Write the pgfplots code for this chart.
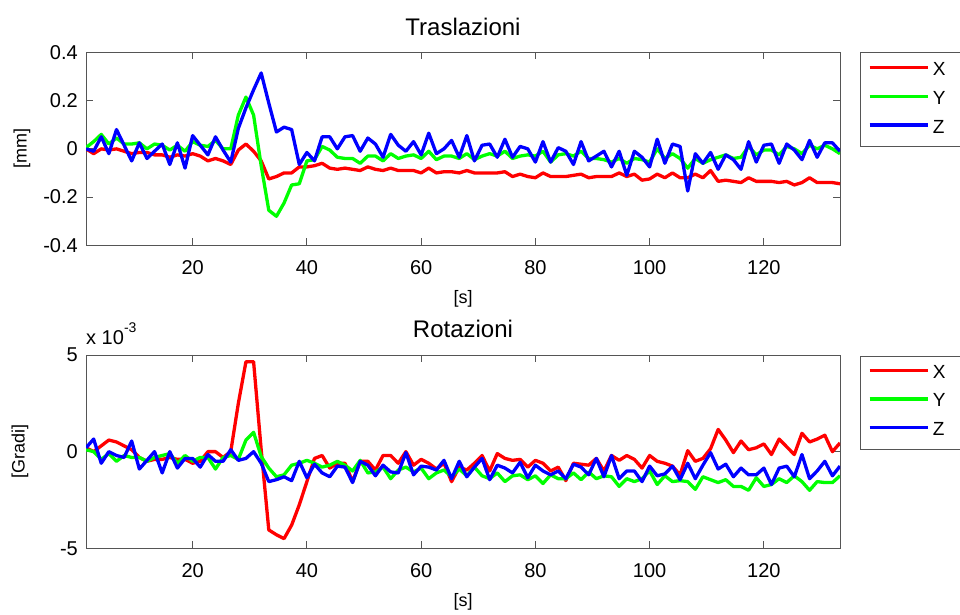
\documentclass[border=0pt]{standalone}
\usepackage{fontspec}
\setmainfont{Liberation Sans}
\usepackage{pgfplots}
\usepackage{pgfplotstable}
\pgfplotsset{compat=1.18}

\pgfplotstableread{
x X Y Z
1.33 0 0.005 0
2.67 -0.02 0.03 -0.01
4 0 0.06 0.05
5.33 -0.005 0.02 -0.02
6.67 0 0.045 0.08
8 -0.01 0.02 0.015
9.33 -0.02 0.02 -0.05
10.67 -0.015 0.025 0.025
12 -0.015 0 -0.04
13.33 -0.025 0.02 -0.01
14.67 -0.025 0.015 0.02
16 -0.035 -0.005 -0.065
17.33 -0.025 0.015 0.025
18.67 -0.03 -0.01 -0.08
20 -0.02 0.03 0.055
21.33 -0.03 0.015 0.015
22.67 -0.05 0.01 -0.025
24 -0.04 0.035 0.05
25.33 -0.05 0 -0.005
26.67 -0.065 0 -0.055
28 -0.005 0.14 0.085
29.33 0.02 0.215 0.17
30.67 -0.01 0.14 0.245
32 -0.05 -0.07 0.315
33.33 -0.125 -0.255 0.19
34.67 -0.115 -0.28 0.07
36 -0.1 -0.225 0.09
37.33 -0.1 -0.15 0.08
38.67 -0.075 -0.145 -0.065
40 -0.075 -0.05 -0.015
41.33 -0.07 -0.045 -0.05
42.67 -0.06 0.01 0.05
44 -0.08 -0.005 0.05
45.33 -0.085 -0.035 0
46.67 -0.08 -0.04 0.05
48 -0.085 -0.04 0.055
49.33 -0.09 -0.06 -0.01
50.67 -0.075 -0.03 0.045
52 -0.085 -0.03 0.02
53.33 -0.09 -0.05 -0.035
54.67 -0.08 -0.02 0.06
56 -0.09 -0.04 0.015
57.33 -0.09 -0.03 -0.01
58.67 -0.09 -0.025 0.03
60 -0.1 -0.04 -0.025
61.33 -0.08 -0.01 0.065
62.67 -0.1 -0.045 -0.02
64 -0.095 -0.03 0
65.33 -0.095 -0.03 0.035
66.67 -0.1 -0.04 -0.035
68 -0.09 -0.02 0.055
69.33 -0.1 -0.045 -0.05
70.67 -0.1 -0.03 0.015
72 -0.1 -0.02 0.02
73.33 -0.1 -0.03 -0.035
74.67 -0.095 -0.01 0.04
76 -0.115 -0.04 -0.035
77.33 -0.105 -0.03 0.01
78.67 -0.115 -0.025 0
80 -0.12 -0.03 -0.055
81.33 -0.1 -0.01 0.03
82.67 -0.115 -0.055 -0.055
84 -0.115 -0.025 0.005
85.33 -0.115 -0.02 -0.01
86.67 -0.11 -0.03 -0.065
88 -0.105 -0.01 0.03
89.33 -0.12 -0.04 -0.05
90.67 -0.115 -0.04 -0.03
92 -0.115 -0.045 -0.01
93.33 -0.115 -0.055 -0.075
94.67 -0.1 -0.04 -0.01
96 -0.115 -0.06 -0.11
97.33 -0.105 -0.04 -0.01
98.67 -0.13 -0.045 -0.035
100 -0.125 -0.055 -0.075
101.33 -0.105 0 0.04
102.67 -0.12 -0.04 -0.06
104 -0.1 -0.02 0.02
105.33 -0.12 -0.04 0.01
106.67 -0.12 -0.08 -0.175
108 -0.105 -0.04 -0.02
109.33 -0.12 -0.06 -0.06
110.67 -0.09 -0.045 -0.015
112 -0.135 -0.035 -0.085
113.33 -0.13 -0.025 -0.025
114.67 -0.135 -0.04 -0.045
116 -0.14 -0.035 -0.085
117.33 -0.12 0.01 0.03
118.67 -0.135 -0.025 -0.055
120 -0.135 -0.005 0.015
121.33 -0.135 -0.005 0.02
122.67 -0.14 -0.025 -0.06
124 -0.135 0.01 0.02
125.33 -0.15 0 -0.005
126.67 -0.14 -0.02 -0.045
128 -0.12 0.015 0.035
129.33 -0.14 0 -0.035
130.67 -0.14 0.015 0.025
132 -0.14 0 0.025
133.33 -0.145 -0.02 -0.01
}\trasl

\pgfplotstableread{
x X Y Z
1.33 0.2 0.1 0.2
2.67 0 0 0.65
4 0.3 -0.4 -0.6
5.33 0.6 -0.1 0
6.67 0.5 -0.5 -0.2
8 0.3 -0.2 -0.3
9.33 0.1 -0.3 0.55
10.67 -0.3 -0.3 -0.9
12 -0.5 -0.5 -0.45
13.33 -0.4 -0.3 0
14.67 -0.4 -0.2 -1.1
16 -0.3 -0.1 0
17.33 -0.4 -0.6 -0.85
18.67 -0.4 -0.2 -0.35
20 -0.6 -0.5 -0.35
21.33 -0.5 -0.3 -0.8
22.67 0 -0.3 -0.15
24 0 -0.9 -0.5
25.33 -0.3 -0.3 -0.5
26.67 0 -0.2 0.1
28 2.5 -0.4 -0.45
29.33 4.65 0.6 -0.35
30.67 4.65 1.0 0
32 0.1 -0.25 -0.6
33.33 -4.05 -0.85 -1.55
34.67 -4.3 -1.3 -1.45
36 -4.5 -1.2 -1.3
37.33 -3.8 -0.7 -1.5
38.67 -2.75 -0.6 -0.5
40 -1.55 -0.45 -1.35
41.33 -0.35 -0.6 -0.65
42.67 -0.2 -0.8 -1.1
44 -0.85 -0.7 -1.3
45.33 -0.6 -0.5 -0.75
46.67 -0.6 -0.7 -0.8
48 -1.55 -1.0 -1.6
49.33 -0.5 -0.45 -0.5
50.67 -0.5 -1.1 -0.7
52 -0.95 -1.05 -1.25
53.33 -0.2 -0.8 -0.7
54.67 -0.2 -1.4 -1.05
56 -0.6 -0.95 -1.1
57.33 0 -0.8 -0.05
58.67 -0.7 -1.05 -1.2
60 -0.4 -0.85 -0.75
61.33 -0.6 -1.4 -0.8
62.67 -0.9 -1.1 -0.95
64 -0.6 -0.95 -0.45
65.33 -1.55 -1.3 -1.4
66.67 -0.8 -0.9 -0.5
68 -0.95 -1.25 -1.3
69.33 -0.6 -0.8 -0.8
70.67 -0.2 -1.25 -0.35
72 -1.0 -1.4 -1.45
73.33 -0.1 -1.1 -0.7
74.67 -0.35 -1.55 -0.85
76 -0.45 -1.25 -1.1
77.33 -0.4 -1.2 -0.55
78.67 -0.8 -1.45 -1.35
80 -0.45 -1.25 -0.7
81.33 -0.6 -1.65 -1.0
82.67 -1.0 -1.2 -1.2
84 -0.8 -1.4 -1.0
85.33 -1.5 -1.4 -1.4
86.67 -0.6 -1.1 -0.65
88 -0.65 -1.45 -0.8
89.33 -0.7 -1.05 -1.2
90.67 -0.35 -1.4 -0.35
92 -1.0 -1.25 -1.3
93.33 -0.2 -1.3 -0.2
94.67 -0.45 -1.8 -1.4
96 -0.2 -1.4 -1.0
97.33 -0.4 -1.55 -1.0
98.67 -0.85 -1.4 -1.55
100 -0.2 -1.0 -0.75
101.33 -0.5 -1.7 -1.25
102.67 -0.6 -1.25 -1.15
104 -0.75 -1.55 -0.75
105.33 -1.2 -1.5 -1.45
106.67 0.05 -1.55 -0.6
108 -0.5 -1.95 -1.4
109.33 -0.35 -1.3 -0.7
110.67 0.15 -1.45 -0.05
112 1.15 -1.6 -0.9
113.33 0.6 -1.45 -0.65
114.67 -0.05 -1.8 -1.3
116 0.55 -1.8 -0.85
117.33 0.1 -2.0 -1.2
118.67 0.2 -1.35 -1.2
120 0.4 -1.8 -0.85
121.33 -0.15 -1.7 -1.7
122.67 0.65 -1.4 -0.85
124 0.25 -1.6 -0.75
125.33 -0.15 -1.25 -1.3
126.67 0.95 -1.55 -0.15
128 0.5 -2.0 -1.4
129.33 0.65 -1.55 -1.0
130.67 0.85 -1.6 -0.5
132 0 -1.6 -1.25
133.33 0.45 -1.25 -0.75
}\rot

\definecolor{axgray}{RGB}{85,85,85}

\pgfplotsset{
  mlab/.style={
    scale only axis, width=754bp,
    xmin=1.33, xmax=133.33,
    clip mode=individual,
    axis line style={axgray, line width=0.8bp},
    every tick/.style={axgray, line width=0.8bp},
    major tick length=7bp,
    tick align=inside,
    xtick={20,40,60,80,100,120},
    xticklabels={20,40,60,80,100,120},
    tick label style={font=\fontsize{20bp}{24bp}\selectfont},
    xticklabel style={inner sep=0pt, anchor=north, yshift=-15bp},
    yticklabel style={inner sep=0pt, anchor=east, xshift=-8bp},
    label style={font=\fontsize{18bp}{22bp}\selectfont},
    xlabel style={at={(axis description cs:0.5,0)}, anchor=center, yshift=-54bp},
    title style={font=\fontsize{24bp}{28bp}\selectfont, at={(axis description cs:0.5,1)}, anchor=base, yshift=11.5bp},
    every axis plot/.append style={line width=3.3bp, line join=round},
    legend style={at={(1,1)}, anchor=north west, xshift=20.7bp,
      draw=none, fill=none,
      font=\fontsize{19bp}{22bp}\selectfont,
      inner xsep=7bp, inner ysep=7bp, row sep=6.7bp,
      nodes={inner xsep=3bp, inner ysep=2bp, text height=14bp, text depth=4bp},
      legend cell align=left},
    legend image code/.code={\draw[#1, line width=3.3bp] (0bp,3bp) -- (58.7bp,3bp);},
  }
}

\begin{document}
\begin{tikzpicture}
\begin{axis}[mlab,
  at={(86bp,369.8bp)}, anchor=south west,
  height=192.7bp,
  ymin=-0.4, ymax=0.4,
  ytick={-0.4,-0.2,0,0.2,0.4},
  yticklabels={-0.4,-0.2,0,0.2,0.4},
  title={Traslazioni},
  xlabel={[s]},
  ylabel={[mm]},
  ylabel style={at={(axis description cs:-0.0849,0.5)}, anchor=center},
]
\addplot[color={rgb,1:red,1;green,0;blue,0}] table[x=x,y=X] {\trasl};
\addplot[color={rgb,1:red,0;green,1;blue,0}] table[x=x,y=Y] {\trasl};
\addplot[color={rgb,1:red,0;green,0;blue,1}] table[x=x,y=Z] {\trasl};
\legend{X,Y,Z}
\draw[axgray, line width=0.8bp] (axis description cs:1.0275,1.0) rectangle (axis description cs:1.18,0.511);
\end{axis}

\begin{axis}[mlab,
  at={(86bp,66.7bp)}, anchor=south west,
  height=193.3bp,
  ymin=-5, ymax=5,
  ytick={-5,0,5},
  yticklabels={-5,0,5},
  title={Rotazioni},
  xlabel={[s]},
  ylabel={[Gradi]},
  ylabel style={at={(axis description cs:-0.0875,0.5)}, anchor=center},
]
\addplot[color={rgb,1:red,1;green,0;blue,0}] table[x=x,y=X] {\rot};
\addplot[color={rgb,1:red,0;green,1;blue,0}] table[x=x,y=Y] {\rot};
\addplot[color={rgb,1:red,0;green,0;blue,1}] table[x=x,y=Z] {\rot};
\legend{X,Y,Z}
\draw[axgray, line width=0.8bp] (axis description cs:1.0275,0.995) rectangle (axis description cs:1.18,0.514);
\node[anchor=base west, inner sep=0pt, font=\fontsize{20bp}{24bp}\selectfont]
  at (axis description cs:0,1) [yshift=10bp]
  {x 10\raisebox{12bp}{\fontsize{14bp}{14bp}\selectfont -3}};
\end{axis}
\pgfresetboundingbox
\useasboundingbox (0,0) rectangle (960bp,615bp);
\end{tikzpicture}
\end{document}
